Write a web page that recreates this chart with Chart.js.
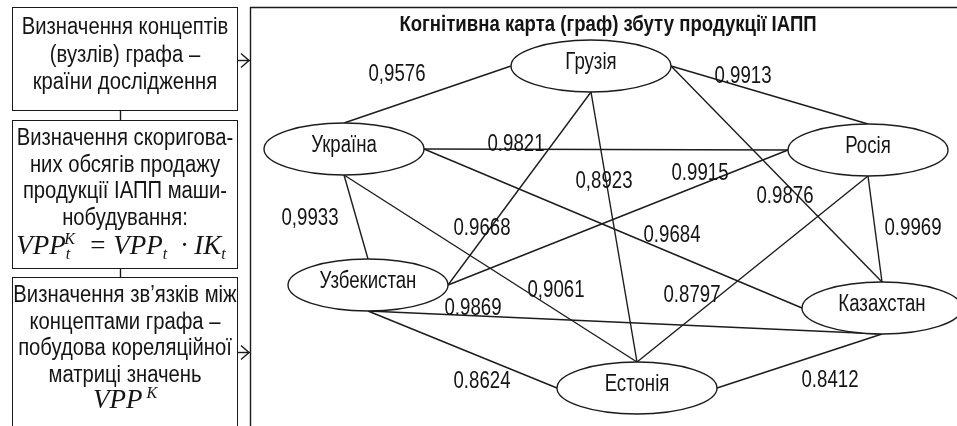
<!DOCTYPE html>
<html><head><meta charset="utf-8">
<script src="https://cdn.jsdelivr.net/npm/chart.js@4.4.1/dist/chart.umd.min.js"></script>
<style>
html,body{margin:0;padding:0;background:#fff;}
#wrap{position:relative;width:957px;height:426px;overflow:hidden;background:#fff;}
#c{position:absolute;left:0;top:0;}
#deco{position:absolute;left:0;top:0;}
.box{position:absolute;left:12px;width:226px;border:1.5px solid #1a1a1a;box-sizing:border-box;background:#fff;color:#141414;}
.t{position:absolute;left:50%;width:300px;margin-left:-150px;transform:scaleX(0.88);transform-origin:50% 0;
  font-family:"Liberation Sans",Arial,sans-serif;font-size:23px;line-height:26.6px;text-align:center;white-space:nowrap;}
.f{position:absolute;left:0;width:100%;text-align:center;white-space:nowrap;
  font-family:"Liberation Serif","Times New Roman",serif;font-style:italic;font-size:27px;line-height:30px;}
.up{font-size:16px;position:relative;top:-10px;}
.dn{font-size:16px;position:relative;top:5px;}
</style></head>
<body>
<div id="wrap">
<canvas id="c" width="957" height="426"></canvas>
<svg id="deco" width="957" height="426">
  <g stroke="#1a1a1a" stroke-width="1.4" fill="none">
    <line x1="250.5" y1="7" x2="250.5" y2="426"/>
    <line x1="250" y1="7.5" x2="957" y2="7.5"/>
    <line x1="120.5" y1="110" x2="120.5" y2="121"/>
    <line x1="120.5" y1="268" x2="120.5" y2="278"/>
    <line x1="238" y1="60.5" x2="250" y2="60.5"/>
    <polyline points="241,53.5 249,60.5 241,67.5"/>
    <line x1="238" y1="352.5" x2="250" y2="352.5"/>
    <polyline points="241,345.5 249,352.5 241,359.5"/>
  </g>
</svg>
<div class="box" style="top:7px;height:104px;">
  <div class="t" style="top:5px;line-height:27.5px;">Визначення концептів<br>(вузлів) графа –<br>країни дослідження</div>
</div>
<div class="box" style="top:120px;height:149px;">
  <div class="t" style="top:3px;">Визначення скоригова-<br>них обсягів продажу<br>продукції ІАПП маши-<br>нобудування:</div>
  <div class="f" style="top:109px;margin-left:-4px;">VPP<span class="dn">t</span><span class="up" style="margin-left:-6px">K</span> &nbsp;= VPP<span class="dn">t</span> &nbsp;· IK<span class="dn">t</span></div>
</div>
<div class="box" style="top:277px;height:152px;">
  <div class="t" style="top:3px;">Визначення зв’язків між<br>концептами графа –<br>побудова кореляційної<br>матриці значень</div>
  <div class="f" style="top:106px;">VPP<span class="up"> K</span></div>
</div>
</div>
<script>
// ---- data ----
const nodes   = ['Грузія','Україна','Росія','Узбекистан','Казахстан','Естонія'];
const nodeX   = [591, 344, 868, 368, 882, 637];
const nodeY   = [66, 149, 150, 285, 308, 388];
const edgeFrom = ['Україна','Грузія','Україна','Грузія','Грузія','Грузія','Україна','Україна','Україна','Росія','Росія','Росія','Узбекистан','Узбекистан','Естонія'];
const edgeTo   = ['Грузія','Росія','Росія','Естонія','Узбекистан','Казахстан','Казахстан','Узбекистан','Естонія','Узбекистан','Естонія','Казахстан','Казахстан','Естонія','Казахстан'];
const weights  = [0.9576,0.9913,0.9821,0.8923,0.9668,0.9876,0.9684,0.9933,0.9061,0.9915,0.8797,0.9969,0.9869,0.8624,0.8412];
const decimalComma = [true,false,false,true,false,false,false,true,true,false,false,false,false,false,false];
// ---- layout ----
const fromSide = ['T','R','R','B','B','R','R','B','B','L','B','B','B','B','R'];
const toSide   = ['L','T','L','T','R','T','L','T','T','R','T','T','B','L','B'];
const labelX = [397,743,516,604,482,785,672,310,556,700,692,913,473,482,830];
const labelY = [75,77,145,182,229,197,236,219,291,174,296,229,309,382,381];
const RX = 80, RY = 26;
const title = 'Когнітивна карта (граф) збуту продукції ІАПП';

function anchor(name, side){
  const i = nodes.indexOf(name);
  let x = nodeX[i], y = nodeY[i];
  if (side==='T') y -= RY; if (side==='B') y += RY;
  if (side==='L') x -= RX; if (side==='R') x += RX;
  return {x, y};
}
const datasets = edgeFrom.map((f,i)=>({
  data:[anchor(f, fromSide[i]), anchor(edgeTo[i], toSide[i])],
  showLine:true, borderColor:'#1c1c1c', borderWidth:1.4, pointRadius:0, fill:false, tension:0
}));

const FONT = '"Liberation Sans",Arial,sans-serif';
function narrowText(ctx, s, x, y, sx){
  ctx.save(); ctx.translate(x, y); ctx.scale(sx, 1); ctx.fillText(s, 0, 0); ctx.restore();
}
const graphPlugin = {
  id:'graph',
  afterDatasetsDraw(chart){
    const ctx = chart.ctx, xs = chart.scales.x, ys = chart.scales.y;
    ctx.save();
    ctx.fillStyle = '#141414';
    ctx.font = '23px ' + FONT;
    ctx.textAlign = 'center'; ctx.textBaseline = 'middle';
    weights.forEach((w,i)=>{
      let s = w.toFixed(4); if (decimalComma[i]) s = s.replace('.', ',');
      narrowText(ctx, s, xs.getPixelForValue(labelX[i]), ys.getPixelForValue(labelY[i]), 0.81);
    });
    nodes.forEach((n,i)=>{
      const cx = xs.getPixelForValue(nodeX[i]), cy = ys.getPixelForValue(nodeY[i]);
      ctx.beginPath();
      ctx.ellipse(cx, cy, RX, RY, 0, 0, Math.PI*2);
      ctx.fillStyle = '#fff'; ctx.fill();
      ctx.lineWidth = 1.4; ctx.strokeStyle = '#1c1c1c'; ctx.stroke();
      ctx.fillStyle = '#141414';
      narrowText(ctx, n, cx, cy - 3, 0.81);
    });
    ctx.font = 'bold 22px ' + FONT;
    narrowText(ctx, title, 608, 25, 0.845);
    ctx.restore();
  }
};

new Chart(document.getElementById('c'), {
  type:'scatter',
  data:{datasets},
  options:{
    responsive:false, animation:false, devicePixelRatio:1,
    layout:{padding:0},
    plugins:{legend:{display:false}, tooltip:{enabled:false}, title:{display:false}},
    scales:{
      x:{type:'linear', min:0, max:957, display:false},
      y:{type:'linear', min:0, max:426, reverse:true, display:false}
    }
  },
  plugins:[graphPlugin]
});
</script>
</body></html>
